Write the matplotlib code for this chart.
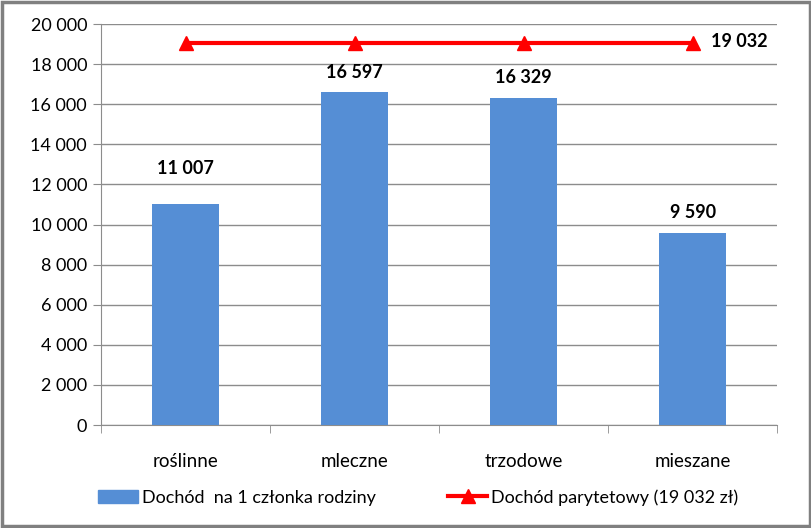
import matplotlib.pyplot as plt
from matplotlib.ticker import FuncFormatter, MultipleLocator
from matplotlib.lines import Line2D
from matplotlib.patches import Patch, Rectangle

plt.rcParams['font.family'] = ['Lato', 'DejaVu Sans']

# data
categories = ['roślinne', 'mleczne', 'trzodowe', 'mieszane']
income = [11007, 16597, 16329, 9590]
parity = [19032, 19032, 19032, 19032]
parity_label = '19 032'

bar_color = '#558ED5'
line_color = '#FF0000'
grid_color = '#8C8C8C'
label_gap = [1800, 1000, 1000, 1000]  # first label sits a bit higher


def fmt(v, pos=None):
    return '{:,.0f}'.format(v).replace(',', ' ')


fig = plt.figure(figsize=(8.12, 5.28), dpi=100)
ax = fig.add_axes([0.1244, 0.195, 0.8326, 0.7595])

x = range(len(categories))
ax.bar(x, income, width=0.4, color=bar_color, zorder=3)
ax.plot(x, parity, color=line_color, lw=3, marker='^', ms=10, zorder=4)

for xi, v, g in zip(x, income, label_gap):
    ax.text(xi, v + g, fmt(v), ha='center', va='center',
            fontsize=13, fontweight='bold')
ax.text(len(categories) - 1 + 0.11, parity[-1] + 100, parity_label,
        ha='left', va='center', fontsize=13, fontweight='bold')

ax.set_xlim(-0.5, len(categories) - 0.5)
ax.set_ylim(0, 20000)
ax.yaxis.set_major_locator(MultipleLocator(2000))
ax.yaxis.set_major_formatter(FuncFormatter(fmt))
ax.yaxis.grid(True, color=grid_color, lw=1, zorder=0)

ax.set_xticks(list(x))
ax.set_xticklabels(categories)
ax.set_xticks([i - 0.5 for i in range(len(categories) + 1)], minor=True)
ax.tick_params(axis='x', which='major', length=0, pad=20, labelsize=13.5)
ax.tick_params(axis='x', which='minor', length=6, color=grid_color)
ax.tick_params(axis='y', length=6, color=grid_color, labelsize=13, pad=4)

for s in ['top', 'right']:
    ax.spines[s].set_visible(False)
ax.spines['left'].set_color(grid_color)
ax.spines['bottom'].set_color(grid_color)

handles = [Patch(color=bar_color),
           Line2D([], [], color=line_color, lw=3, marker='^', ms=10)]
labels = ['Dochód  na 1 członka rodziny', 'Dochód parytetowy (19 032 zł)']
fig.legend(handles, labels, loc='center', bbox_to_anchor=(0.515, 0.058),
           ncol=2, frameon=False, fontsize=13, handlelength=2.2,
           columnspacing=4, handletextpad=0.2)

fig.patches.append(Rectangle((0.002, 0.003), 0.995, 0.994, transform=fig.transFigure,
                             fill=False, edgecolor='#808080', lw=2.5))

fig.savefig('out.png', dpi=100)
